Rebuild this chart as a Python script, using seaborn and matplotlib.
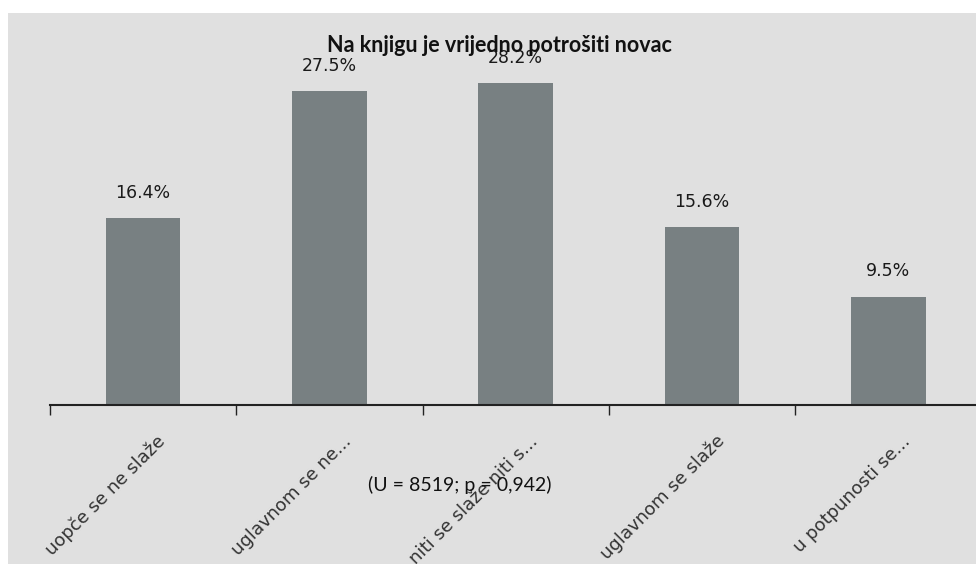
import numpy as np
import pandas as pd
import seaborn as sns
import matplotlib.pyplot as plt
from matplotlib.patches import Rectangle

# chart data
categories = ['uopče se ne slaže', 'uglavnom se ne...', 'niti se slaže niti s...',
              'uglavnom se slaže', 'u potpunosti se...']
values = [16.4, 27.5, 28.2, 15.6, 9.5]
value_labels = ['16.4%', '27.5%', '28.2%', '15.6%', '9.5%']
title = 'Na knjigu je vrijedno potrošiti novac'
note = '(U = 8519; p = 0,942)'


def main():
    sns.set_theme(style='white')
    plt.rcParams['font.family'] = ['DejaVu Sans']

    fig = plt.figure(figsize=(9.76, 5.64), dpi=100)
    fig.patch.set_facecolor('white')
    # grey panel behind everything
    fig.patches.append(Rectangle((8 / 976, 0), 1, (564 - 13) / 564,
                                 transform=fig.transFigure,
                                 facecolor='#e0e0e0', edgecolor='none',
                                 zorder=-10))

    ax = fig.add_axes([50 / 976, 159 / 564, 931.5 / 976, 388 / 564])
    ax.set_facecolor('none')

    df = pd.DataFrame({'cat': categories, 'val': values})
    sns.barplot(data=df, x='cat', y='val', color='#788082', saturation=1,
                width=0.4, edgecolor='none', linewidth=0, ax=ax)

    ax.set_xlim(-0.5, 4.5)
    ax.set_ylim(0, 34)
    ax.set_xlabel('')
    ax.set_ylabel('')
    ax.set_yticks([])
    for side in ['left', 'top', 'right']:
        ax.spines[side].set_visible(False)
    ax.spines['bottom'].set_color('#222222')
    ax.spines['bottom'].set_linewidth(1.5)

    # ticks on category boundaries, labels drawn separately
    ax.set_xticks(np.arange(len(categories)) - 0.5)
    ax.set_xticklabels([])
    ax.tick_params(axis='x', direction='out', length=7, width=1,
                   color='#222222', bottom=True)

    for i, lab in enumerate(categories):
        ax.annotate(lab, xy=(i, 0), xycoords=ax.get_xaxis_transform(),
                    xytext=(14, -24), textcoords='offset points',
                    rotation=45, rotation_mode='anchor', ha='right',
                    va='center', fontsize=13, color='#333333',
                    annotation_clip=False)

    for i, (v, lab) in enumerate(zip(values, value_labels)):
        ax.annotate(lab, xy=(i, v), xytext=(0, 14.5),
                    textcoords='offset points', ha='center', va='baseline',
                    fontsize=12.5, color='#1a1a1a')

    fig.text(499 / 976, (564 - 52) / 564, title, ha='center',
             va='baseline', fontsize=15.5, fontweight='bold',
             family=['Lato', 'DejaVu Sans'], color='#111111')
    fig.text(460 / 976, (564 - 491) / 564, note, ha='center',
             va='baseline', fontsize=14, family=['Lato', 'DejaVu Sans'],
             color='#111111')

    fig.savefig('out.png', dpi=100)


if __name__ == '__main__':
    main()
